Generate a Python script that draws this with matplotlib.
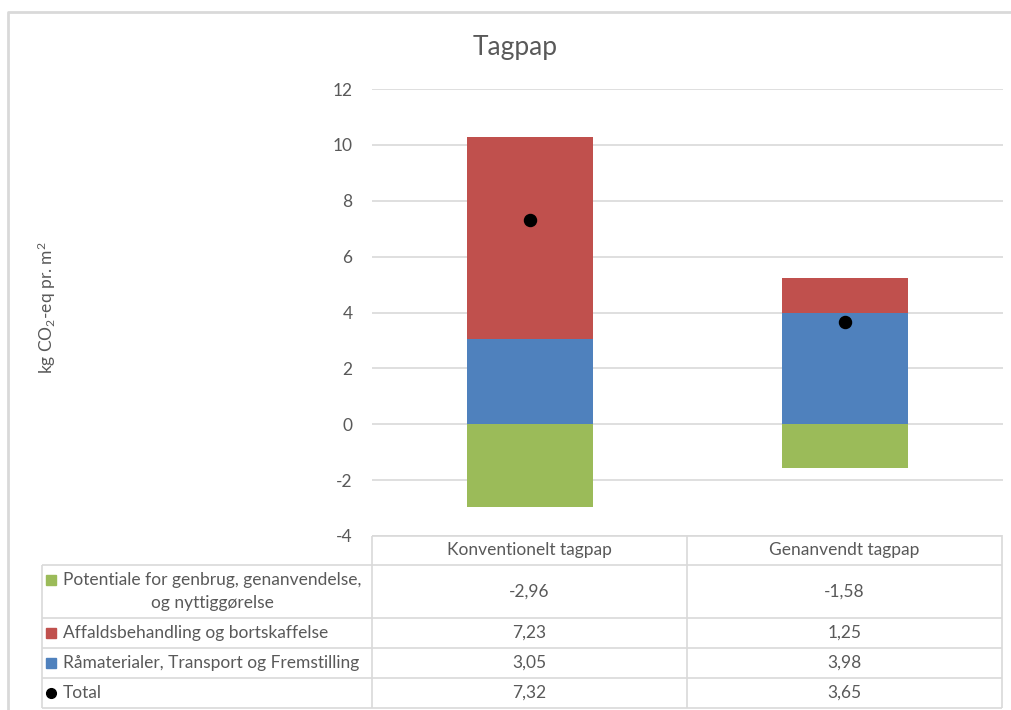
import numpy as np
import matplotlib
matplotlib.use("Agg")
import matplotlib.pyplot as plt

# data
categories = ["Konventionelt tagpap", "Genanvendt tagpap"]
series_names = ["Potentiale for genbrug, genanvendelse,\nog nyttiggørelse",
                "Affaldsbehandling og bortskaffelse",
                "Råmaterialer, Transport og Fremstilling",
                "Total"]
potentiale = [-2.96, -1.58]
affald = [7.23, 1.25]
raamat = [3.05, 3.98]
total = [7.32, 3.65]

GREEN = "#9bbb59"
RED = "#c0504d"
BLUE = "#4f81bd"
GRAY = "#595959"
LINE = "#d9d9d9"

plt.rcParams["font.family"] = ["Lato", "DejaVu Sans"]
plt.rcParams["axes.unicode_minus"] = False
plt.rcParams["mathtext.fontset"] = "custom"
plt.rcParams["mathtext.rm"] = "Lato"
plt.rcParams["mathtext.it"] = "Lato:italic"

W, H = 1011, 710
fig = plt.figure(figsize=(W / 100, H / 100), dpi=100)

# main chart axes (pixel layout)
ax = fig.add_axes([372 / W, 1 - 536 / H, 631 / W, 447 / H])
x = np.arange(len(categories))
bw = 0.4
ax.bar(x, raamat, bw, color=BLUE, zorder=2)
ax.bar(x, affald, bw, bottom=raamat, color=RED, zorder=2)
ax.bar(x, potentiale, bw, color=GREEN, zorder=2)
ax.scatter(x, total, s=75, color="black", zorder=3)

ax.set_xlim(-0.5, 1.5)
ax.set_ylim(-4, 12)
ax.set_yticks(np.arange(-4, 13, 2))
ax.set_xticks([])
ax.grid(axis="y", color=LINE, linewidth=1.2, zorder=0)
ax.set_axisbelow(True)
for s in ax.spines.values():
    s.set_visible(False)
ax.tick_params(axis="y", length=0, pad=14, labelsize=12.5, labelcolor=GRAY)

fig.text(515 / W, 1 - 47 / H, "Tagpap", ha="center", va="center",
         fontsize=19, color=GRAY)
fig.text(47 / W, 1 - 308 / H, r"kg CO$\mathrm{_2}$-eq pr. m$\mathrm{^2}$",
         rotation=90, ha="center", va="center", fontsize=12.5, color=GRAY)

# overlay in pixel coords for frame and data table
ov = fig.add_axes([0, 0, 1, 1], facecolor="none")
ov.set_xlim(0, W)
ov.set_ylim(H, 0)
ov.axis("off")

# outer chart border
ov.plot([7.5, 7.5, W + 5], [H + 5, 11.5, 11.5], color=LINE, lw=2)

col_x = [42, 372, 687, 1002]
row_y = [536, 565, 618, 648, 678, 708]
ov.hlines(row_y[0], col_x[1], col_x[3], color=LINE, lw=1.2)
ov.hlines(row_y[1:], col_x[0], col_x[3], color=LINE, lw=1.2)
ov.vlines(col_x[1:], row_y[0], row_y[-1], color=LINE, lw=1.2)
ov.vlines(col_x[0], row_y[1], row_y[-1], color=LINE, lw=1.2)

for j, cat in enumerate(categories):
    cx = (col_x[j + 1] + col_x[j + 2]) / 2
    ov.text(cx, (row_y[0] + row_y[1]) / 2, cat, ha="center", va="center",
            fontsize=12.5, color=GRAY)

rows = [potentiale, affald, raamat, total]
keys = [("s", GREEN), ("s", RED), ("s", BLUE), ("o", "black")]
for i, (name, vals, (mk, mc)) in enumerate(zip(series_names, rows, keys)):
    cy = (row_y[i + 1] + row_y[i + 2]) / 2
    ky = cy - 12 if "\n" in name else cy
    ov.plot(51, ky, marker=mk, color=mc, markersize=7, clip_on=False)
    ov.text(63, cy, name, ha="left", va="center", multialignment="center",
            fontsize=12.5, color=GRAY, linespacing=1.5)
    for j, v in enumerate(vals):
        cx = (col_x[j + 1] + col_x[j + 2]) / 2
        ov.text(cx, cy, f"{v:.2f}".replace(".", ","), ha="center",
                va="center", fontsize=12.5, color=GRAY)

fig.savefig("out.png", dpi=100, facecolor="white")
